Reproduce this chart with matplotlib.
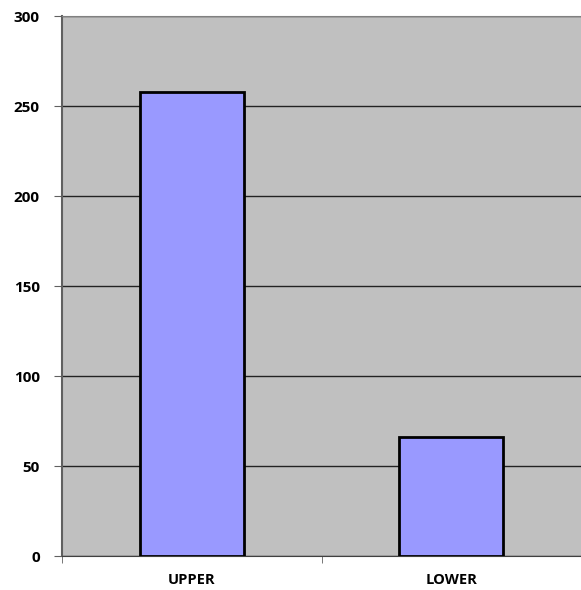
import matplotlib.pyplot as plt
import numpy as np

categories = ["UPPER", "LOWER"]
values = [258, 66]
y_ticks = [0, 50, 100, 150, 200, 250, 300]

plt.rcParams['font.family'] = ['Open Sans', 'DejaVu Sans']

fig = plt.figure(figsize=(5.81, 5.90), dpi=100)
ax = fig.add_axes([62 / 581, 34 / 590, 519 / 581, 540 / 590])
ax.set_facecolor('#C0C0C0')

x = np.arange(len(categories))
ax.bar(x, values, width=0.4, color='#9999FF', edgecolor='black', linewidth=2, zorder=3)

ax.set_xlim(-0.5, 1.5)
ax.set_ylim(0, 300)
ax.set_yticks(y_ticks)
ax.set_yticklabels([str(v) for v in y_ticks], fontsize=11, fontweight='bold')
ax.yaxis.grid(True, color='#222222', linewidth=1, zorder=1)
ax.set_axisbelow(True)

ax.set_xticks(x)
ax.set_xticklabels(categories, fontsize=10.5, fontweight='bold')
ax.tick_params(axis='x', length=0, pad=12)
ax.set_xticks([-0.5, 0.5, 1.5], minor=True)
ax.tick_params(axis='x', which='minor', length=5, color='#606060')
ax.tick_params(axis='y', length=6, color='#606060', pad=10)

ax.spines['right'].set_visible(False)
ax.spines['top'].set_color('#808080')
ax.spines['left'].set_color('#606060')
ax.spines['left'].set_linewidth(1.5)
ax.spines['bottom'].set_color('#404040')

fig.savefig('out.png', dpi=100)
